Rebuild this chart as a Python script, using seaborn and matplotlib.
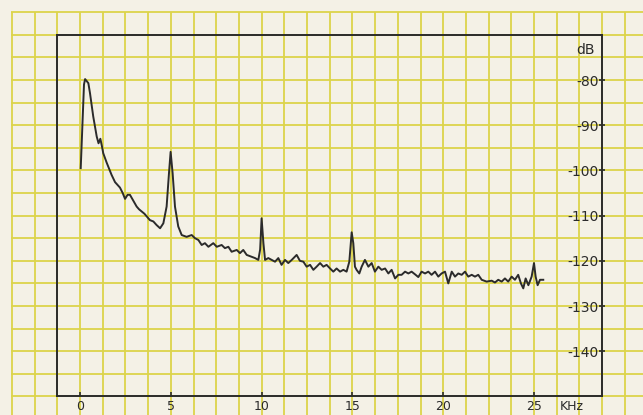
import matplotlib
matplotlib.use("Agg")
import matplotlib.pyplot as plt
import numpy as np
import pandas as pd
import seaborn as sns

# ---- data ----
freq_khz = [0.04, 0.22, 0.28, 0.38, 0.46, 0.55, 0.73, 0.92, 1.02, 1.12, 1.20, 1.28,
            1.47, 1.74, 1.93, 2.20, 2.35, 2.48, 2.62, 2.75, 2.95, 3.12, 3.25, 3.40,
            3.55, 3.70, 3.85, 4.04, 4.22, 4.41, 4.59, 4.77, 4.90, 4.99, 5.10, 5.23,
            5.41, 5.60, 5.87, 6.15, 6.33, 6.52, 6.70, 6.88, 7.07, 7.34, 7.53, 7.80,
            7.98, 8.17, 8.35, 8.63, 8.81, 8.99, 9.18, 9.45, 9.64, 9.82, 9.92, 10.00,
            10.10, 10.19, 10.37, 10.55, 10.74, 10.92, 11.10, 11.29, 11.47, 11.66, 11.93, 12.11,
            12.30, 12.48, 12.67, 12.85, 13.03, 13.22, 13.40, 13.58, 13.77, 13.95, 14.13, 14.32,
            14.50, 14.68, 14.83, 14.96, 15.05, 15.14, 15.23, 15.38, 15.51, 15.69, 15.88, 16.06,
            16.24, 16.43, 16.61, 16.80, 16.98, 17.16, 17.35, 17.53, 17.71, 17.90, 18.08, 18.26,
            18.45, 18.63, 18.81, 19.00, 19.18, 19.36, 19.55, 19.73, 19.91, 20.10, 20.28, 20.47,
            20.65, 20.83, 21.02, 21.20, 21.38, 21.57, 21.75, 21.93, 22.12, 22.39, 22.67, 22.85,
            23.03, 23.22, 23.40, 23.58, 23.77, 23.95, 24.13, 24.28, 24.41, 24.54, 24.69, 24.87,
            25.00, 25.09, 25.20, 25.33, 25.51]
level_db = [-99.5, -81.0, -79.8, -80.3, -80.7, -82.9, -88.1, -92.5, -94.0, -93.0, -94.5, -96.2,
            -98.3, -101.0, -102.6, -103.8, -105.0, -106.3, -105.4, -105.4, -106.8, -108.0, -108.6, -109.1,
            -109.6, -110.3, -111.0, -111.3, -112.1, -112.8, -111.7, -108.0, -100.6, -95.9, -100.6, -108.0,
            -112.4, -114.3, -114.7, -114.3, -115.0, -115.4, -116.5, -116.1, -116.9, -116.1, -116.9, -116.5,
            -117.2, -116.9, -118.0, -117.6, -118.3, -117.6, -118.7, -119.1, -119.4, -119.8, -117.5, -110.6,
            -116.1, -119.8, -119.4, -119.8, -120.2, -119.4, -120.9, -119.8, -120.5, -119.8, -118.7, -120.0,
            -120.2, -121.3, -120.9, -122.0, -121.3, -120.5, -121.3, -120.9, -121.7, -122.4, -121.7, -122.4,
            -122.0, -122.4, -120.2, -113.7, -116.1, -121.3, -122.0, -122.8, -121.3, -119.8, -121.3, -120.5,
            -122.4, -121.3, -122.0, -121.7, -122.8, -122.0, -123.9, -123.1, -123.1, -122.4, -122.8, -122.4,
            -123.0, -123.6, -122.4, -122.8, -122.4, -123.1, -122.4, -123.5, -122.8, -122.4, -125.0, -122.4,
            -123.5, -122.8, -123.1, -122.4, -123.5, -123.1, -123.5, -123.1, -124.2, -124.6, -124.4, -124.8,
            -124.2, -124.6, -123.9, -124.6, -123.5, -124.2, -123.1, -125.0, -126.1, -123.9, -125.4, -123.5,
            -120.5, -123.5, -125.4, -124.2, -124.2]

x_ticks = [0, 5, 10, 15, 20, 25]
x_tick_labels = ["0", "5", "10", "15", "20", "25"]
y_ticks = [-80, -90, -100, -110, -120, -130, -140]
y_tick_labels = ["-80", "-90", "-100", "-110", "-120", "-130", "-140"]
x_unit = "KHz"
y_unit = "dB"

df = pd.DataFrame({"freq": freq_khz, "level": level_db})

# ---- geometry (pixels) ----
W, H = 643, 415
PX_PER_KHZ = 18.16
PX_PER_DB = 4.52
X0_PX, Y80_PX = 80.0, 80.0   # pixel position of 0 kHz and -80 dB

def kx(px):
    return (px - X0_PX) / PX_PER_KHZ

def dy(py):
    return -80.0 - (py - Y80_PX) / PX_PER_DB

paper = "#f4f1e6"
yellow = "#dcd44a"
ink = "#2b2b2b"

plt.rcParams["font.family"] = ["DejaVu Sans"]
fig = plt.figure(figsize=(W / 100, H / 100), dpi=100, facecolor=paper)

# graph-paper background
bg = fig.add_axes([0, 0, 1, 1])
bg.set_xlim(kx(0), kx(W))
bg.set_ylim(dy(H), dy(0))
bg.set_facecolor(paper)
bg.axis("off")
x_top = dy(12.0)
x_left = kx(11.5)
for k in range(-3, 25):
    bg.vlines(1.25 * k, dy(H), x_top, color=yellow, lw=1.3, zorder=1)
for k in range(-3, 16):
    yv = -80 - 5 * k
    if yv <= x_top + 0.01:
        bg.hlines(yv, x_left, kx(W), color=yellow, lw=1.3, zorder=1)

# main axes
l_px, r_px = X0_PX - 1.25 * PX_PER_KHZ, X0_PX + 28.75 * PX_PER_KHZ
t_px, b_px = Y80_PX - 10 * PX_PER_DB, Y80_PX + 70 * PX_PER_DB
ax = fig.add_axes([l_px / W, 1 - b_px / H, (r_px - l_px) / W, (b_px - t_px) / H])
ax.set_facecolor("none")

sns.lineplot(data=df, x="freq", y="level", ax=ax, color=ink, lw=1.4,
             estimator=None, sort=False)

ax.set_xlim(-1.25, 28.75)
ax.set_ylim(-150, -70)
for s in ax.spines.values():
    s.set_color(ink)
    s.set_linewidth(1.4)

ax.set_xticks(x_ticks)
ax.set_xticklabels(x_tick_labels)
ax.tick_params(axis="x", direction="in", length=3, width=1.2, color=ink,
               labelsize=9, labelcolor=ink, pad=2.5)

ax.yaxis.set_ticks_position("right")
ax.set_yticks(y_ticks)
ax.set_yticklabels(y_tick_labels)
ax.tick_params(axis="y", direction="inout", length=5, width=1.2, color=ink,
               labelsize=10, labelcolor=ink, pad=-5.0)
plt.setp(ax.get_yticklabels(), ha="right")

ax.set_xlabel("")
ax.set_ylabel("")
ax.text(27.1, -152.3, x_unit, ha="center", va="center", fontsize=9, color=ink,
        clip_on=False)
ax.text(28.35, -73.4, y_unit, ha="right", va="center", fontsize=10, color=ink)

fig.savefig("out.png", dpi=100, facecolor=paper)
